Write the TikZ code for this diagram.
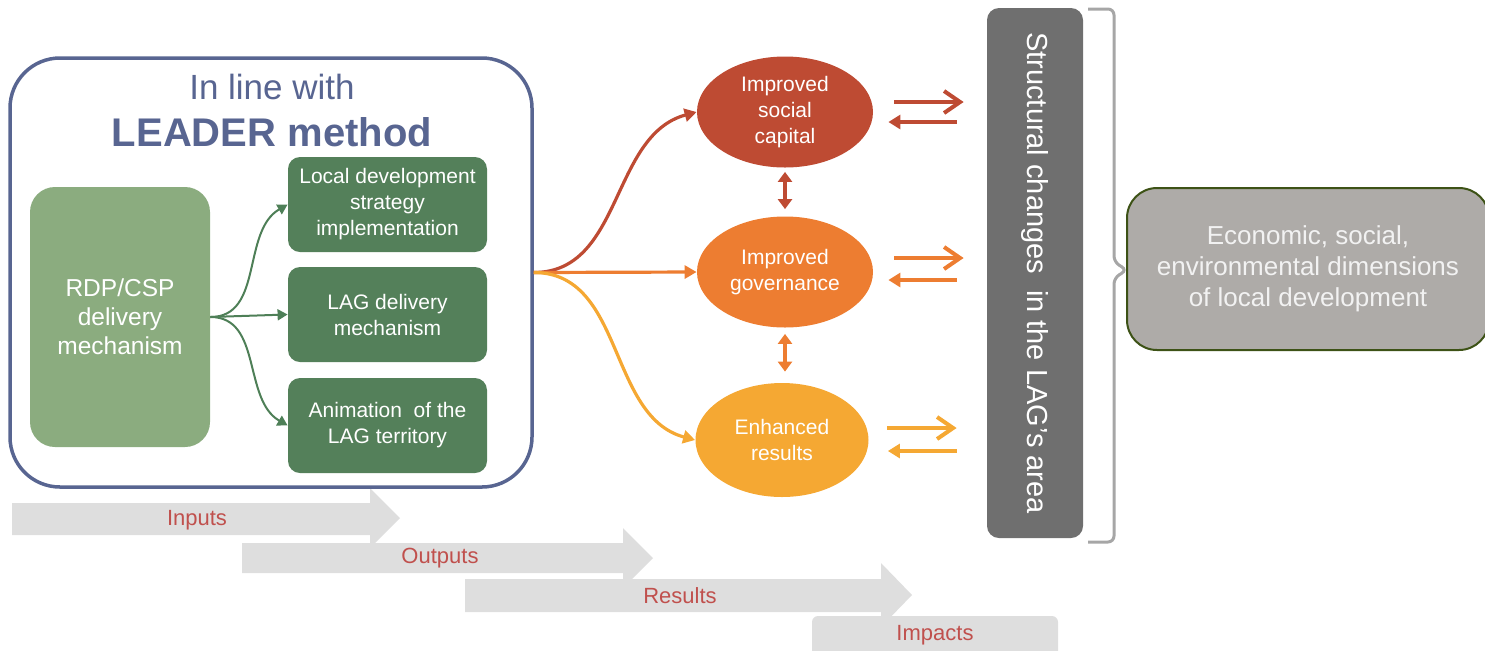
\documentclass[tikz,border=0pt]{standalone}
\usepackage{fontspec}
\setmainfont{Liberation Sans}
\usetikzlibrary{arrows.meta,shapes.geometric,calc}

\definecolor{slate}{HTML}{586591}
\definecolor{ltgreen}{HTML}{8BAC7F}
\definecolor{dkgreen}{HTML}{54805A}
\definecolor{arrgreen}{HTML}{4E7F57}
\definecolor{capred}{HTML}{BE4B33}
\definecolor{govorange}{HTML}{ED7D31}
\definecolor{resamber}{HTML}{F5A833}
\definecolor{structgrey}{HTML}{6F6F6F}
\definecolor{econgrey}{HTML}{AEABA8}
\definecolor{econline}{HTML}{3D5216}
\definecolor{bracegrey}{HTML}{A6A6A6}
\definecolor{chevgrey}{HTML}{DEDEDE}
\definecolor{lblred}{HTML}{C0504D}

\begin{document}
\begin{tikzpicture}[x=0.5pt,y=0.5pt,yscale=-1,xscale=1,
  greenbox/.style={rectangle,rounded corners=6pt,fill=dkgreen,text=white,minimum width=99.5pt,minimum height=47.5pt,align=center,inner sep=0pt,font=\fontsize{10.5}{13}\selectfont},
  bubble/.style={ellipse,minimum width=88pt,minimum height=55.5pt,inner sep=0pt,text=white,align=center,font=\fontsize{10.5}{13}\selectfont},
  branch/.style={line width=1pt,draw=arrgreen,-{Triangle[length=5pt,width=5.5pt]}},
  flow/.style={line width=1.6pt,-{Triangle[length=6pt,width=6.5pt]}},
  both/.style={line width=2.2pt,{Triangle[length=5pt,width=7pt]}-{Triangle[length=5pt,width=7pt]}},
  fwd/.style={line width=2pt,-{Straight Barb[length=8pt,width=11pt]}},
  bwd/.style={line width=2pt,-{Triangle[length=6pt,width=7pt]}},
  chev/.style={fill=chevgrey},
  steplbl/.style={text=lblred,font=\fontsize{11}{13}\selectfont,inner sep=0pt}
]
\useasboundingbox (0,0) rectangle (1485,650);

%Shape: chevrons [inputs, outputs, results, impacts]
\fill[chev] (12,503) -- (370,503) -- (370,488) -- (400,518) -- (370,548) -- (370,535) -- (12,535) -- cycle;
\fill[chev] (242,543) -- (623,543) -- (623,528) -- (653,558) -- (623,588) -- (623,573) -- (242,573) -- cycle;
\fill[chev] (465,579) -- (881,579) -- (881,563) -- (912,595) -- (881,627) -- (881,612) -- (465,612) -- cycle;
\fill[chev,rounded corners=3pt] (812,616) rectangle (1058,665);

% Text Node
\node[steplbl] (inputs) at (197,520) {Inputs};
% Text Node
\node[steplbl] (outputs) at (440,558) {Outputs};
% Text Node
\node[steplbl] (results) at (680,596) {Results};
% Text Node
\node[steplbl] (impacts) at (935,635) {Impacts};

%Shape: Rounded Rect [LEADER frame]
\node[draw=slate,line width=1.75pt,rounded corners=25pt,minimum width=261pt,minimum height=214.5pt] (leader) at (271,272.5) {};
% Text Node
\node[text=slate,font=\fontsize{17.5}{20}\selectfont] (title) at (272,87) {In line with};
% Text Node
\node[text=slate,font=\fontsize{20}{24}\selectfont\bfseries] (method) at (272,132) {LEADER method};

%Shape: Rounded Rect [delivery]
\node[fill=ltgreen,rounded corners=12.5pt,minimum width=90pt,minimum height=130pt,text=white,align=center,font=\fontsize{12.25}{14.5}\selectfont] (rdp) at (120,317) {RDP/CSP\\delivery\\mechanism};
\node[greenbox] (lds) at (387.5,204.5) {Local development\\strategy\\implementation};
\node[greenbox] (lagdm) at (387.5,314.5) {LAG delivery\\mechanism};
\node[greenbox] (anim) at (387.5,425.5) {Animation~ of the\\LAG territory};

%Curve Lines [green branches]
\draw[branch] (rdp.east) to[out=0,in=150] (lds.west);
\draw[branch] (rdp.east) -- (lagdm.west);
\draw[branch] (rdp.east) to[out=0,in=210] (anim.west);

%Shape: Ellipses
\node[bubble,fill=capred] (isc) at (785,112) {Improved\\social\\capital};
\node[bubble,fill=govorange] (igov) at (785,272) {Improved\\governance};
\node[bubble,fill=resamber,minimum width=86.5pt,minimum height=57pt] (enh) at (782,440) {Enhanced\\results};

%Curve Lines [coloured branches]
\draw[flow,capred] (leader.east) to[out=0,in=165] (isc.west);
\draw[flow,govorange] (leader.east) -- (igov.west);
\draw[flow,resamber] (leader.east) to[out=0,in=195] (enh.west);

%Straight Lines [double arrows]
\draw[both,capred] ($(isc.south)+(0,4)$) -- ($(igov.north)+(0,-7)$);
\draw[both,govorange] ($(igov.south)+(0,6)$) -- ($(igov.south |- enh.north)+(0,-11)$);

%Shape: Rounded Rect [structural changes]
\node[fill=structgrey,rounded corners=6pt,minimum width=48pt,minimum height=265pt,
  label={[rotate=-90,text=white,font=\fontsize{14.5}{17}\selectfont]center:Structural changes~ in the LAG’s area}] (struct) at (1035,273) {};

%Straight Lines [exchange arrows]
\draw[fwd,capred] ($(isc.east)+(21,-10)$) -- ($(isc.east -| struct.west)+(-23,-10)$);
\draw[bwd,capred] ($(isc.east -| struct.west)+(-30,10)$) -- ($(isc.east)+(15,10)$);
\draw[fwd,govorange] ($(igov.east)+(21,-14)$) -- ($(igov.east -| struct.west)+(-23,-14)$);
\draw[bwd,govorange] ($(igov.east -| struct.west)+(-30,8)$) -- ($(igov.east)+(15,8)$);
\draw[fwd,resamber] ($(enh.east)+(18,-12)$) -- ($(enh.east -| struct.west)+(-30,-12)$);
\draw[bwd,resamber] ($(enh.east -| struct.west)+(-30,11)$) -- ($(enh.east)+(19,11)$);

%Shape: Brace
\draw[bracegrey,line width=1.5pt,rounded corners=3pt] (1088,9) -- (1114,9) -- (1114,262) -- (1127,270) -- (1114,278) -- (1114,542) -- (1088,542);

%Shape: Rounded Rect [dimensions]
\node[fill=econgrey,draw=econline,line width=1pt,rounded corners=15pt,minimum width=181pt,minimum height=81pt,text=white!95!black,align=center,font=\fontsize{13}{15.5}\selectfont] (econ) at (1308,269) {Economic, social,\\environmental dimensions\\of local development};

\end{tikzpicture}
\end{document}
